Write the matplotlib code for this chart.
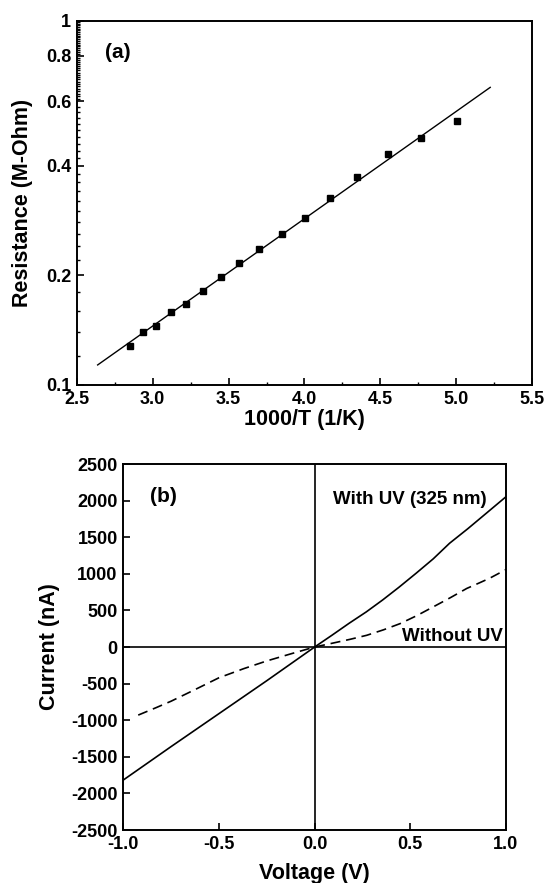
import matplotlib
matplotlib.use("Agg")
import matplotlib.pyplot as plt
from matplotlib.ticker import NullFormatter

plt.rcParams['font.family'] = ['Liberation Sans', 'DejaVu Sans']
plt.rcParams['font.weight'] = 'bold'
plt.rcParams['axes.labelweight'] = 'bold'

# (a) resistance vs 1000/T
inv_T = [2.851, 2.934, 3.024, 3.121, 3.223, 3.332, 3.447, 3.569,
         3.703, 3.849, 4.001, 4.170, 4.348, 4.547, 4.764, 5.004]
resistance = [0.128, 0.1396, 0.1455, 0.1584, 0.167, 0.1816, 0.1976, 0.2163,
              0.2364, 0.2594, 0.287, 0.3265, 0.372, 0.4294, 0.477, 0.532]
fit_x = [2.638, 5.223]
fit_y = [0.1135, 0.656]

# (b) I-V curves
v_uv = [-1.0, -0.75, -0.5, -0.25, 0.0, 0.09, 0.18, 0.27, 0.355, 0.44, 0.53,
        0.62, 0.705, 0.80, 0.897, 1.0]
i_uv = [-1817, -1360, -910, -460, 0, 160, 324, 480, 642, 815, 1007,
        1205, 1417, 1615, 1827, 2053]
v_dark = [-0.922, -0.83, -0.75, -0.62, -0.5, -0.37, -0.25, -0.12, 0.0,
          0.098, 0.185, 0.272, 0.36, 0.447, 0.535, 0.621, 0.71, 0.795,
          0.86, 0.915, 1.0]
i_dark = [-930, -830, -740, -575, -420, -295, -190, -90, 0,
          55, 105, 160, 235, 320, 430, 550, 675, 800, 875, 940, 1058]

fig = plt.figure(figsize=(5.47, 8.83), dpi=100)

# ---- panel (a)
ax1 = fig.add_axes([0.1402, 0.5640, 0.8329, 0.4126])
ax1.set_yscale('log')
ax1.plot(fit_x, fit_y, 'k-', lw=1.0)
ax1.plot(inv_T, resistance, 'ks', ms=5)
ax1.set_xlim(2.5, 5.5)
ax1.set_ylim(0.1, 1.0)
ax1.set_xticks([2.5, 3.0, 3.5, 4.0, 4.5, 5.0, 5.5])
ax1.set_xticklabels(['2.5', '3.0', '3.5', '4.0', '4.5', '5.0', '5.5'])
ax1.set_xticks([2.75, 3.25, 3.75, 4.25, 4.75, 5.25], minor=True)
ax1.set_yticks([0.1, 0.2, 0.4, 0.6, 0.8, 1.0])
ax1.set_yticklabels(['0.1', '0.2', '0.4', '0.6', '0.8', '1'])
minor_y = [0.12, 0.14, 0.16, 0.18, 0.22, 0.24, 0.26, 0.28, 0.30, 0.32, 0.34,
           0.36, 0.38, 0.42, 0.44, 0.46, 0.48, 0.50, 0.52, 0.54, 0.56, 0.58,
           0.61, 0.62, 0.63, 0.64, 0.65, 0.66, 0.67, 0.68, 0.69, 0.70, 0.71,
           0.72, 0.73, 0.74, 0.75, 0.76, 0.77, 0.78, 0.79, 0.81, 0.82, 0.83,
           0.84, 0.85, 0.86, 0.87, 0.88, 0.89, 0.90, 0.91, 0.92, 0.93, 0.94,
           0.95, 0.96, 0.97, 0.98, 0.99]
ax1.set_yticks(minor_y, minor=True)
ax1.yaxis.set_minor_formatter(NullFormatter())
ax1.set_xlabel('1000/T (1/K)', fontsize=15.5)
ax1.set_ylabel('Resistance (M-Ohm)', fontsize=15.5)
ax1.xaxis.set_label_coords(0.5, -0.066)
ax1.yaxis.set_label_coords(-0.096, 0.5)
ax1.text(2.77, 0.82, '(a)', fontsize=15, ha='center', va='center')

# ---- panel (b)
ax2 = fig.add_axes([0.2254, 0.0600, 0.6996, 0.4145])
ax2.axhline(0, color='k', lw=1.2)
ax2.axvline(0, color='k', lw=1.2)
ax2.plot(v_uv, i_uv, 'k-', lw=1.2)
ax2.plot(v_dark, i_dark, color='k', lw=1.2, linestyle=(0, (6, 3.5)))
ax2.set_xlim(-1.0, 1.0)
ax2.set_ylim(-2500, 2500)
ax2.set_xticks([-1.0, -0.5, 0.0, 0.5, 1.0])
ax2.set_xticklabels(['-1.0', '-0.5', '0.0', '0.5', '1.0'])
ax2.set_yticks([-2500, -2000, -1500, -1000, -500, 0, 500, 1000, 1500, 2000, 2500])
ax2.set_yticklabels(['-2500', '-2000', '-1500', '-1000', '-500', '0', '500',
                     '1000', '1500', '2000', '2500'])
ax2.set_xlabel('Voltage (V)', fontsize=15.5)
ax2.set_ylabel('Current (nA)', fontsize=15.5)
ax2.xaxis.set_label_coords(0.5, -0.089)
ax2.yaxis.set_label_coords(-0.165, 0.5)
ax2.text(-0.79, 2050, '(b)', fontsize=15, ha='center', va='center')
ax2.text(0.50, 2010, 'With UV (325 nm)', fontsize=13.5, ha='center', va='center')
ax2.text(0.72, 150, 'Without UV', fontsize=13.5, ha='center', va='center')

for ax in (ax1, ax2):
    for sp in ax.spines.values():
        sp.set_linewidth(1.4)
    ax.tick_params(which='major', direction='in', length=5, width=1.2,
                   labelsize=13, pad=4)
    ax.tick_params(which='minor', direction='in', length=2.5, width=1.0)
    for lab in ax.get_xticklabels() + ax.get_yticklabels():
        lab.set_fontweight('bold')

fig.savefig('out.png', dpi=100)
